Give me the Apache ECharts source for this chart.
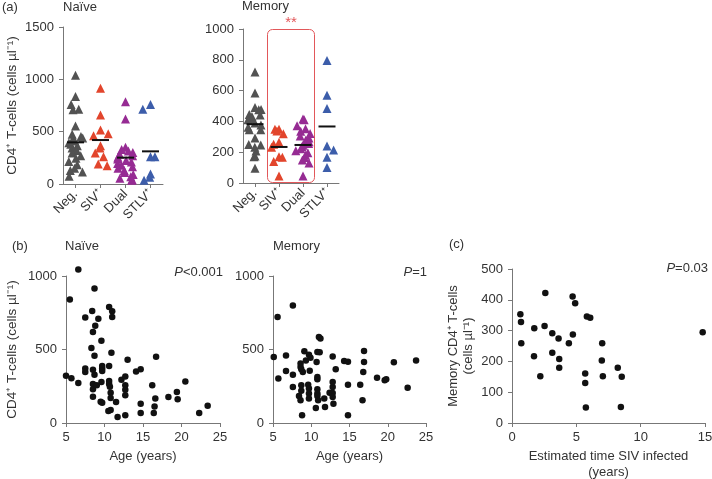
<!DOCTYPE html>
<html><head><meta charset="utf-8">
<script src="https://cdn.jsdelivr.net/npm/echarts@6/dist/echarts.min.js"></script>
<style>html,body{margin:0;padding:0;background:#fff}#c{width:712px;height:479px}</style>
</head><body><div id="c"></div>
<script>
// ---------- DATA ----------
const groups = ['Neg.', 'SIV⁺', 'Dual', 'STLV⁺'];

// (a) Naïve CD4+ T-cells (cells/µl)
const naiveNeg  = [1040, 835, 760, 715, 710, 555, 475, 455, 440, 425, 410, 395, 380, 365, 345, 320, 295, 270, 245, 215, 185, 150, 130, 115, 75];
const naiveSIV  = [915, 660, 515, 480, 460, 365, 345, 295, 260, 190, 175];
const naiveDual = [785, 620, 350, 330, 315, 300, 285, 270, 255, 240, 225, 210, 195, 180, 165, 150, 130, 110, 90, 70, 55, 40, 35];
const naiveSTLV = [760, 715, 260, 260, 95, 65, 35];
const naiveMedian = [398, 420, 252, 312];

// (a) Memory CD4+ T-cells (cells/µl)
const memNeg  = [720, 585, 490, 478, 475, 445, 442, 432, 415, 410, 390, 377, 362, 345, 345, 292, 250, 247, 232, 208, 176, 170, 95];
const memSIV  = [349, 349, 338, 319, 265, 252, 232, 171, 167, 139, 46];
const memDual = [416, 410, 372, 352, 336, 322, 305, 292, 280, 268, 256, 245, 236, 222, 210, 196, 180, 165, 150, 130, 46];
const memSTLV = [796, 570, 484, 241, 215, 167, 100];
const memMedian = [382, 234, 247, 367];

// significance box (memory panel)
const sigGroups = ['SIV⁺', 'Dual'];
const sigTop = 1000;
const sigLabel = '**';

// (b) Naïve vs age
const bNaiveAge = [6.6, 8.7, 5.5, 10.6, 11.0, 8.4, 7.5, 9.2, 11.0, 8.8, 8.5, 9.6, 8.3, 10.9, 8.7, 13.0, 5.0, 5.7, 6.6, 7.5, 7.5, 8.5, 8.7, 9.7, 9.7, 9.7, 10.6, 8.5, 8.5, 9.0, 9.6, 10.6, 10.6, 10.7, 10.8, 10.8, 8.5, 9.5, 9.7, 11.5, 10.5, 10.8, 11.7, 12.2, 12.7, 12.7, 12.7, 12.7, 12.7, 14.1, 14.7, 14.7, 14.7, 16.7, 16.2, 16.6, 16.5, 16.4, 18.3, 19.4, 19.5, 20.5, 22.3, 23.4];
const bNaiveVal = [1045, 915, 840, 789, 760, 762, 717, 710, 721, 662, 619, 560, 510, 478, 458, 431, 322, 304, 272, 370, 347, 363, 329, 388, 370, 354, 388, 265, 229, 256, 279, 286, 265, 247, 206, 170, 179, 145, 138, 143, 82, 88, 41, 295, 317, 256, 227, 188, 52, 351, 365, 131, 68, 451, 256, 166, 113, 68, 177, 211, 161, 283, 68, 118];

// (b) Memory vs age
const bMemAge = [7.6, 5.6, 11.0, 11.2, 5.1, 6.7, 9.1, 9.3, 9.7, 9.9, 10.8, 11.1, 10.7, 12.8, 14.3, 14.8, 8.6, 8.6, 8.7, 8.9, 6.7, 7.6, 5.7, 9.8, 13.2, 10.8, 10.8, 7.6, 8.7, 8.7, 9.6, 9.7, 9.7, 9.7, 10.8, 10.8, 8.4, 8.6, 10.8, 10.9, 11.7, 12.4, 12.8, 12.8, 12.8, 12.8, 12.9, 10.6, 11.8, 8.8, 14.8, 14.8, 16.9, 16.9, 16.8, 16.4, 16.7, 18.6, 19.6, 19.8, 20.8, 22.6, 23.7];
const bMemVal = [800, 721, 585, 574, 449, 460, 488, 426, 465, 444, 483, 481, 415, 453, 422, 417, 404, 381, 365, 347, 354, 329, 302, 356, 365, 313, 297, 245, 256, 220, 261, 234, 200, 166, 229, 200, 184, 154, 184, 154, 166, 206, 204, 245, 279, 177, 131, 102, 109, 52, 261, 52, 490, 415, 347, 261, 154, 308, 290, 297, 413, 240, 426];

// (c) Memory vs estimated time SIV infected
const cYears = [0.65, 0.7, 0.72, 1.73, 1.71, 2.2, 2.59, 2.53, 3.13, 3.13, 3.62, 3.67, 3.67, 4.42, 4.73, 4.71, 4.91, 5.69, 5.69, 5.74, 5.82, 6.08, 7.01, 6.98, 7.06, 8.22, 8.53, 8.46, 14.82];
const cVal   = [353, 328, 259, 308, 217, 152, 422, 315, 291, 228, 274, 208, 179, 259, 287, 411, 389, 161, 130, 50, 346, 342, 259, 203, 152, 179, 150, 52, 295];

// p-value texts
const pNaive = '<0.001', pMem = '=1', pC = '=0.03';

// ---------- STYLE ----------
const FONT = "'Liberation Sans', Arial, Helvetica, sans-serif";
const TXT = '#333';
const AXC = '#777';
const groupColors = ['#525252', '#e2452c', '#962b93', '#3c5daa'];
const dotColor = '#111';
const boxColor = '#e2575a';

const chart = echarts.init(document.getElementById('c'));

const axisLine = { show: true, lineStyle: { color: AXC, width: 1 } };
const axisTick = { show: true, length: 4, inside: false, lineStyle: { color: AXC } };
const plain = v => String(v);
const lbl = (extra) => Object.assign({ color: TXT, fontSize: 13, fontFamily: FONT, margin: 8 }, extra || {});
const nameStyle = (extra) => Object.assign({ color: TXT, fontSize: 13, fontFamily: FONT, fontWeight: 'normal' }, extra || {});

function valAxis(grid, min, max, interval, extra) {
  return Object.assign({
    type: 'value', gridIndex: grid, min, max, interval,
    axisLine, axisTick, splitLine: { show: false },
    axisLabel: lbl({ margin: 9, formatter: plain })
  }, extra || {});
}
function catAxis(grid, extra) {
  return Object.assign({
    type: 'category', gridIndex: grid, data: groups, boundaryGap: true,
    axisLine, axisTick: Object.assign({}, axisTick, { alignWithLabel: true }),
    axisLabel: lbl({ rotate: 45, margin: 8, interval: 0 }),
    splitLine: { show: false }
  }, extra || {});
}
function hiddenCat(grid) {
  return { type: 'category', gridIndex: grid, data: groups, boundaryGap: true, show: false };
}

const yName = 'CD4⁺ T-cells (cells µl⁻¹)';

function groupSeries(xi, yi, arrays) {
  return arrays.map((arr, gi) => ({
    type: 'scatter', xAxisIndex: xi, yAxisIndex: yi,
    symbol: 'triangle', symbolSize: 9,
    itemStyle: { color: groupColors[gi], opacity: 1 },
    data: arr.map(v => [groups[gi], v]),
    clip: false, z: 2
  }));
}
function medianSeries(xi, yi, med) {
  return {
    type: 'scatter', xAxisIndex: xi, yAxisIndex: yi,
    symbol: 'rect', symbolSize: [17, 2],
    itemStyle: { color: '#111', opacity: 1 },
    data: med.map((v, i) => [groups[i], v]), z: 5, clip: false
  };
}
function zip(xs, ys) { return xs.map((x, i) => [x, ys[i]]); }
function dots(xi, yi, xs, ys) {
  return { type: 'scatter', xAxisIndex: xi, yAxisIndex: yi, symbolSize: 6.5, itemStyle: { color: dotColor, opacity: 1 }, data: zip(xs, ys), clip: false };
}

const pRich = {
  i: { fontStyle: 'italic', fontWeight: 'normal', fontSize: 13, fontFamily: FONT, color: TXT },
  n: { fontWeight: 'normal', fontSize: 13, fontFamily: FONT, color: TXT }
};
const titleText = (t, left, top, size) => ({ text: t, left, top, textStyle: { fontSize: size || 13, fontWeight: 'normal', color: TXT, fontFamily: FONT }, padding: 0 });
const pTitle = (t, right, top) => ({ text: '{i|P}{n|' + t + '}', right, top, padding: 0, textStyle: { fontWeight: 'normal', fontSize: 13, fontFamily: FONT, color: TXT, rich: pRich } });

const option = {
  animation: false,
  backgroundColor: '#fff',
  title: [
    titleText('(a)', 2, 1),
    titleText('Naïve', 63, 1),
    titleText('Memory', 242, 0),
    titleText('(b)', 12, 240),
    titleText('Naïve', 65, 240),
    titleText('Memory', 273, 240),
    titleText('(c)', 449, 238),
    pTitle(pNaive, 489, 266),
    pTitle(pMem, 285, 266),
    pTitle(pC, 4, 262)
  ],
  grid: [
    { left: 63, top: 27, width: 100, height: 157, outerBoundsMode: 'none' },
    { left: 243, top: 29, width: 96, height: 154, outerBoundsMode: 'none' },
    { left: 66, top: 276, width: 154, height: 147, outerBoundsMode: 'none' },
    { left: 273, top: 276, width: 153, height: 147, outerBoundsMode: 'none' },
    { left: 512, top: 269, width: 193, height: 154, outerBoundsMode: 'none' }
  ],
  xAxis: [
    catAxis(0, { jitter: 20, jitterOverlap: false, jitterMargin: 0 }),
    hiddenCat(0),
    catAxis(1, { jitter: 20, jitterOverlap: false, jitterMargin: 0 }),
    hiddenCat(1),
    valAxis(2, 5, 25, 5, { axisLabel: lbl({ margin: 8, formatter: plain }), name: 'Age (years)', nameLocation: 'middle', nameGap: 27, nameTextStyle: nameStyle() }),
    valAxis(3, 5, 25, 5, { axisLabel: lbl({ margin: 8, formatter: plain }), name: 'Age (years)', nameLocation: 'middle', nameGap: 27, nameTextStyle: nameStyle() }),
    valAxis(4, 0, 15, 5, { axisLabel: lbl({ margin: 8, formatter: plain }), name: 'Estimated time SIV infected\n(years)', nameLocation: 'middle', nameGap: 25, nameTextStyle: nameStyle({ lineHeight: 16 }) })
  ],
  yAxis: [
    valAxis(0, 0, 1500, 500, { name: yName, nameLocation: 'middle', nameRotate: 90, nameGap: 44, nameTextStyle: nameStyle({ fontSize: 13.5 }) }),
    valAxis(1, 0, 1000, 200),
    valAxis(2, 0, 1000, 500, { name: yName, nameLocation: 'middle', nameRotate: 90, nameGap: 47, nameTextStyle: nameStyle({ fontSize: 13.5 }) }),
    valAxis(3, 0, 1000, 500),
    valAxis(4, 0, 500, 100, { name: 'Memory CD4⁺ T-cells\n(cells µl⁻¹)', nameLocation: 'middle', nameRotate: 90, nameGap: 36, nameTextStyle: nameStyle({ lineHeight: 15 }) })
  ],
  series: [].concat(
    groupSeries(0, 0, [naiveNeg, naiveSIV, naiveDual, naiveSTLV]),
    [medianSeries(1, 0, naiveMedian)],
    groupSeries(2, 1, [memNeg, memSIV, memDual, memSTLV]),
    [medianSeries(3, 1, memMedian)],
    [{
      type: 'custom', xAxisIndex: 3, yAxisIndex: 1, clip: false, z: 1,
      data: [[groups.indexOf(sigGroups[0]), groups.indexOf(sigGroups[1]), sigTop]],
      encode: { x: [0, 1], y: 2 },
      renderItem: function (params, api) {
        const i0 = api.value(0), i1 = api.value(1), top = api.value(2);
        const pTop = api.coord([i0, top]);
        const pEnd = api.coord([i1, 0]);
        const bw = api.size([1, 0])[0];
        const x = pTop[0] - bw / 2 + 0.5, y = pTop[1] + 0.5;
        const w = pEnd[0] - pTop[0] + bw - 1, h = pEnd[1] - pTop[1] - 1;
        return {
          type: 'group',
          children: [
            { type: 'rect', shape: { x, y, width: w, height: h, r: 5 }, style: { fill: 'none', stroke: boxColor, lineWidth: 1 } },
            { type: 'text', style: { text: sigLabel, x: x + w / 2, y: y + 1, align: 'center', verticalAlign: 'bottom', fill: boxColor, fontSize: 15, fontFamily: FONT, fontWeight: 'normal' } }
          ]
        };
      }
    }],
    [
      dots(4, 2, bNaiveAge, bNaiveVal),
      dots(5, 3, bMemAge, bMemVal),
      dots(6, 4, cYears, cVal)
    ]
  )
};
chart.setOption(option);
</script>
</body></html>
